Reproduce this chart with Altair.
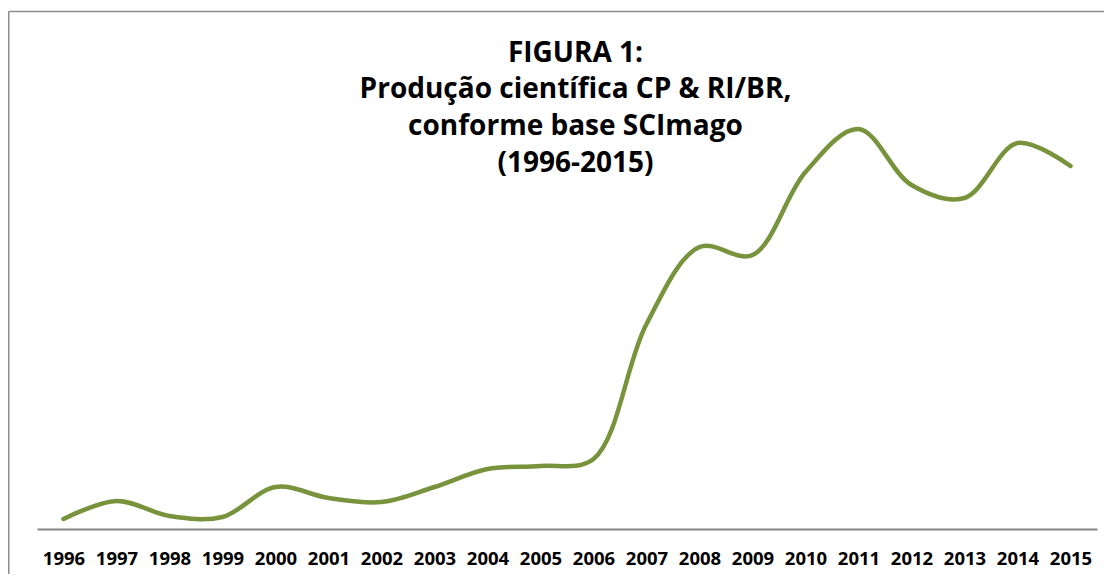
import altair as alt
import pandas as pd

years = [str(y) for y in range(1996, 2016)]
values = [10, 28, 13, 12, 42, 31, 27, 42, 60, 63, 70, 205, 282, 274, 357, 400, 344, 331, 386, 363]

title_lines = ["FIGURA 1:", "Produção científica CP & RI/BR,", "conforme base SCImago", "(1996-2015)"]

df = pd.DataFrame({"ano": years, "valor": values})

FONT = "Open Sans"

line = alt.Chart(df).mark_line(
    color="#77933C", strokeWidth=4.5, interpolate="catmull-rom", strokeCap="round"
).encode(
    x=alt.X("ano:O", sort=years, title=None,
            scale=alt.Scale(paddingInner=0, paddingOuter=0.5),
            axis=alt.Axis(labelAngle=0, labelFont=FONT, labelFontWeight="bold",
                          labelFontSize=18.5, labelColor="#000000", labelPadding=20,
                          ticks=False, domainColor="#868686", domainWidth=2,
                          grid=False)),
    y=alt.Y("valor:Q", scale=alt.Scale(domain=[0, 509], nice=False, zero=True),
            axis=None),
)

one = alt.Data(values=[{"k": 1}])
left_edge = alt.Chart(one).mark_rule(color="#8c8c8c", strokeWidth=1.5).encode(
    x=alt.value(-28.25), y=alt.value(-8.5), y2=alt.value(620)
)
top_edge = alt.Chart(one).mark_rule(color="#8c8c8c", strokeWidth=1.5).encode(
    x=alt.value(-28.25), x2=alt.value(1200), y=alt.value(-8.5)
)
title = alt.Chart(one).mark_text(
    text=title_lines, font=FONT, fontWeight="bold", fontSize=28, color="#000000",
    align="center", baseline="alphabetic", lineHeight=36.8,
).encode(x=alt.value(538.5), y=alt.value(41.7))

chart = alt.layer(line, left_edge, top_edge, title).properties(
    width=1060,
    height=509,
    background="#ffffff",
    autosize=alt.AutoSizeParams(type="none"),
    padding={"left": 29, "top": 12, "right": 7, "bottom": 45},
).configure_view(strokeWidth=0, stroke=None)

chart.save("out.html", embed_options={"renderer": "svg", "actions": False})
